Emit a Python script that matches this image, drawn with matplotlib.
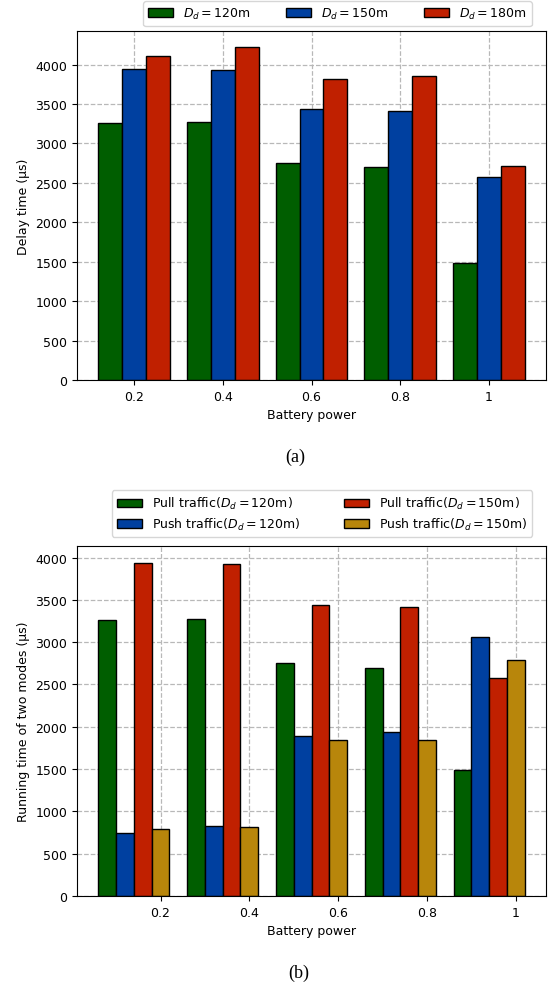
import numpy as np
import matplotlib
matplotlib.use('Agg')
import matplotlib.pyplot as plt

plt.rcParams['font.family'] = 'DejaVu Sans'
plt.rcParams['font.size'] = 9

# Data
battery = ['0.2', '0.4', '0.6', '0.8', '1']

# (a) delay time
delay_120 = [3260, 3270, 2750, 2700, 1490]
delay_150 = [3940, 3930, 3440, 3410, 2580]
delay_180 = [4110, 4220, 3820, 3850, 2710]

# (b) running time of two modes
pull_120 = [3260, 3270, 2750, 2700, 1490]
push_120 = [750, 830, 1890, 1940, 3060]
pull_150 = [3940, 3930, 3440, 3410, 2580]
push_150 = [790, 810, 1840, 1840, 2790]

colors = {
    'green': '#005e00',
    'blue': '#0040a0',
    'red': '#c02000',
    'gold': '#b8860b',
}

fig = plt.figure(figsize=(5.49, 9.87), dpi=100)
x = np.arange(len(battery))

# ---- (a)
ax1 = fig.add_axes([0.1403, 0.614, 0.8543, 0.3539])
w = 0.27
ax1.bar(x - w, delay_120, w, color=colors['green'], edgecolor='black', linewidth=1, label='$D_d = 120$m')
ax1.bar(x, delay_150, w, color=colors['blue'], edgecolor='black', linewidth=1, label='$D_d = 150$m')
ax1.bar(x + w, delay_180, w, color=colors['red'], edgecolor='black', linewidth=1, label='$D_d = 180$m')
ax1.set_xticks(x)
ax1.set_xticklabels(battery)
ax1.set_xlabel('Battery power')
ax1.set_ylabel('Delay time (μs)')
ax1.set_axisbelow(True)
ax1.grid(True, linestyle='--', color='#b8b8b8', linewidth=0.9)
ax1.legend(ncol=3, loc='lower left', bbox_to_anchor=(0.141, 1.013), borderaxespad=0,
           columnspacing=2.8, handlelength=2.0)

# ---- (b)
ax2 = fig.add_axes([0.1403, 0.0912, 0.8543, 0.3546])
w = 0.2
ax2.bar(x - 3 * w, pull_120, w, color=colors['green'], edgecolor='black', linewidth=1, label='Pull traffic($D_d = 120$m)')
ax2.bar(x - 2 * w, push_120, w, color=colors['blue'], edgecolor='black', linewidth=1, label='Push traffic($D_d = 120$m)')
ax2.bar(x - w, pull_150, w, color=colors['red'], edgecolor='black', linewidth=1, label='Pull traffic($D_d = 150$m)')
ax2.bar(x, push_150, w, color=colors['gold'], edgecolor='black', linewidth=1, label='Push traffic($D_d = 150$m)')
ax2.set_xticks(x)
ax2.set_xticklabels(battery)
ax2.set_xlabel('Battery power')
ax2.set_ylabel('Running time of two modes (μs)')
ax2.set_axisbelow(True)
ax2.grid(True, linestyle='--', color='#b8b8b8', linewidth=0.9)
ax2.legend(ncol=2, loc='lower left', bbox_to_anchor=(0.074, 1.026), borderaxespad=0,
           columnspacing=3.5, handlelength=2.0, labelspacing=0.35)

# captions
fig.text(295 / 549, 1 - 457 / 987, '(a)', family='Liberation Serif', fontsize=13, ha='center', va='center')
fig.text(299 / 549, 1 - 973 / 987, '(b)', family='Liberation Serif', fontsize=13, ha='center', va='center')

fig.savefig('out.png', dpi=100)
